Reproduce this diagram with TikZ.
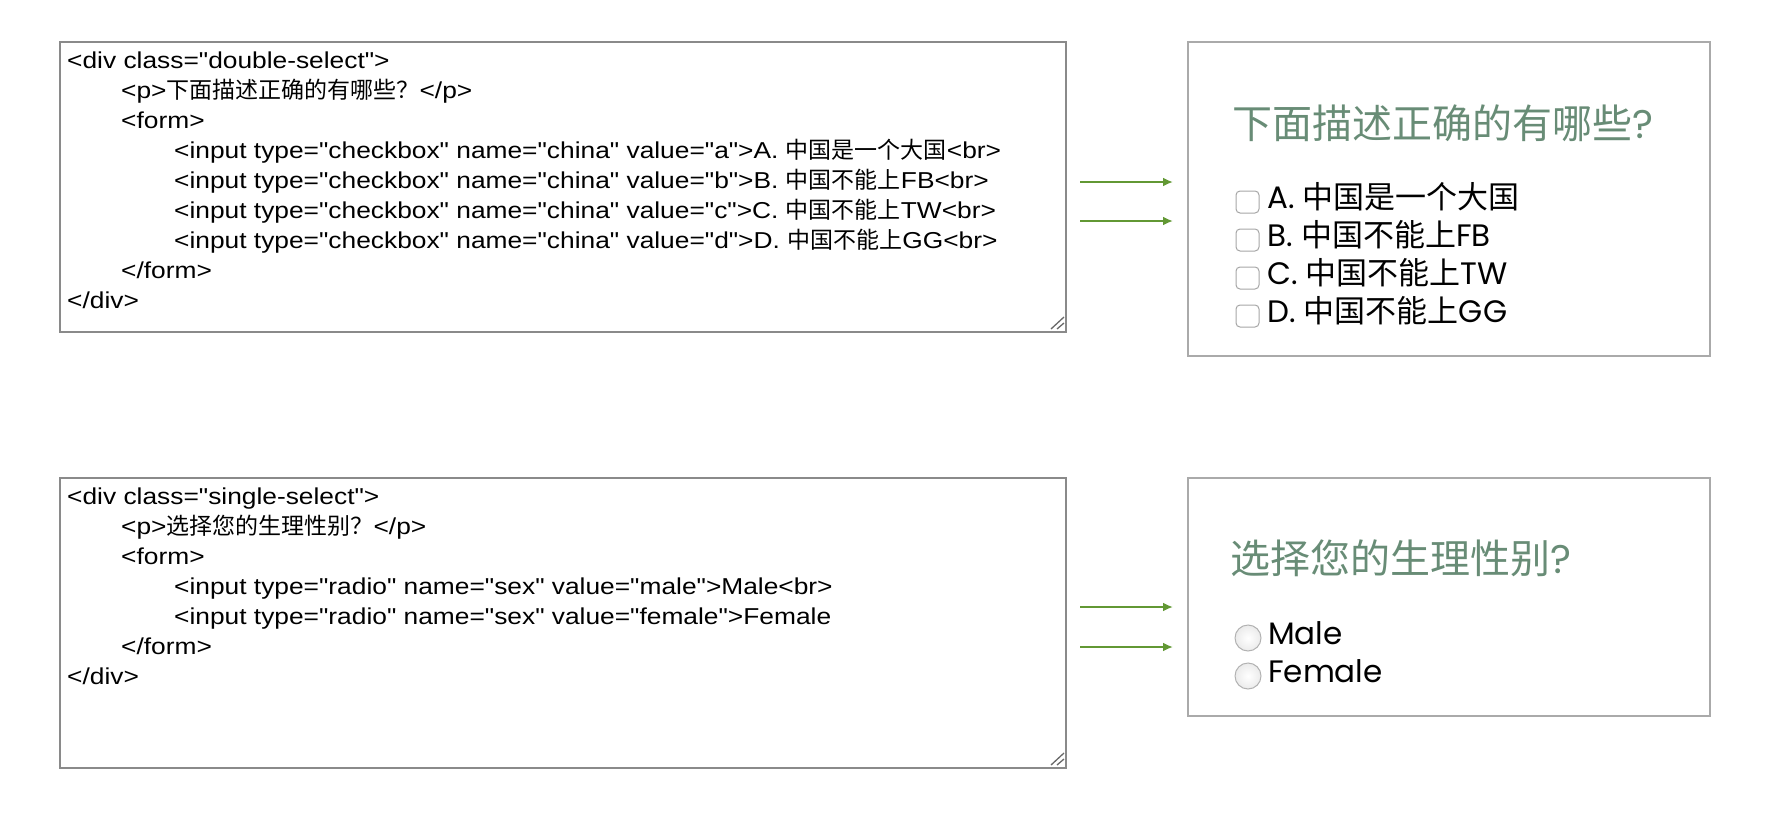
\documentclass[tikz,border=0pt]{standalone}
\usepackage{fontspec}
\setmainfont{Liberation Sans}
\newfontfamily\codefont[FakeStretch=1.145]{Liberation Sans}
\newfontfamily\cjk{Noto Sans CJK SC}
\newfontfamily\formfont{Poppins}
\usetikzlibrary{arrows.meta}

\definecolor{boxgray}{RGB}{138,138,138}
\definecolor{framegray}{RGB}{170,170,170}
\definecolor{titlegreen}{RGB}{104,140,118}
\definecolor{arrowgreen}{RGB}{98,152,52}
\definecolor{gripgray}{RGB}{105,105,105}

\tikzset{
  codebox/.style={draw=boxgray,line width=2pt,inner sep=0pt,anchor=north west},
  viewbox/.style={draw=framegray,line width=2pt,inner sep=0pt,anchor=north west},
  codeline/.style={anchor=base west,inner sep=0pt,font=\codefont\fontsize{23}{28}\selectfont},
  title/.style={anchor=base west,inner sep=0pt,text=titlegreen,font=\cjk\fontsize{40}{48}\selectfont},
  item/.style={anchor=base west,inner sep=0pt,font=\formfont\fontsize{31}{38}\selectfont},
  flow/.style={draw=arrowgreen,line width=2pt,-{Latex[length=10pt,width=9pt]}},
  grip/.style={draw=gripgray,line width=1.3pt},
  tick/.style={draw=black!35,fill=white,line width=1pt,rounded corners=4pt},
  radio/.style={draw=black!30,inner color=white,outer color=black!8,line width=1pt}
}

\begin{document}
\begin{tikzpicture}[x=1pt,y=-1pt]
\useasboundingbox (0,0) rectangle (1778,830);

\node[codebox,minimum width=1006pt,minimum height=290pt] (codeA) at (59,41) {};
\node[viewbox,minimum width=522pt,minimum height=314pt] (viewA) at (1187,41) {};
\node[codebox,minimum width=1006pt,minimum height=290pt] (codeB) at (59,477) {};
\node[viewbox,minimum width=522pt,minimum height=238pt] (viewB) at (1187,477) {};

\draw[grip] ([xshift=-16pt,yshift=4pt]codeA.south east) -- ([xshift=-3pt,yshift=16pt]codeA.south east);
\draw[grip] ([xshift=-10pt,yshift=4pt]codeA.south east) -- ([xshift=-3pt,yshift=10pt]codeA.south east);
\draw[grip] ([xshift=-16pt,yshift=4pt]codeB.south east) -- ([xshift=-3pt,yshift=16pt]codeB.south east);
\draw[grip] ([xshift=-10pt,yshift=4pt]codeB.south east) -- ([xshift=-3pt,yshift=10pt]codeB.south east);

\node[codeline] (a1) at (67,68) {<div class="double-select">};
\node[codeline] (a2) at (121,98) {<p>{\cjk 下面描述正确的有哪些？}</p>};
\node[codeline] (a3) at (121,128) {<form>};
\node[codeline] (a4) at (174,158) {<input type="checkbox" name="china" value="a">A. {\cjk 中国是一个大国}<br>};
\node[codeline] (a5) at (174,188) {<input type="checkbox" name="china" value="b">B. {\cjk 中国不能上}FB<br>};
\node[codeline] (a6) at (174,218) {<input type="checkbox" name="china" value="c">C. {\cjk 中国不能上}TW<br>};
\node[codeline] (a7) at (174,248) {<input type="checkbox" name="china" value="d">D. {\cjk 中国不能上}GG<br>};
\node[codeline] (a8) at (121,278) {</form>};
\node[codeline] (a9) at (67,308) {</div>};

\node[codeline] (b1) at (67,504) {<div class="single-select">};
\node[codeline] (b2) at (121,534) {<p>{\cjk 选择您的生理性别？}</p>};
\node[codeline] (b3) at (121,564) {<form>};
\node[codeline] (b4) at (174,594) {<input type="radio" name="sex" value="male">Male<br>};
\node[codeline] (b5) at (174,624) {<input type="radio" name="sex" value="female">Female};
\node[codeline] (b6) at (121,654) {</form>};
\node[codeline] (b7) at (67,684) {</div>};

\coordinate (fa1) at (1080,182);
\coordinate (ta1) at (1173,182);
\coordinate (fa2) at (1080,221);
\coordinate (ta2) at (1173,221);
\coordinate (fb1) at (1080,607);
\coordinate (tb1) at (1173,607);
\coordinate (fb2) at (1080,647);
\coordinate (tb2) at (1173,647);
\draw[flow] (fa1) -- (ta1);
\draw[flow] (fa2) -- (ta2);
\draw[flow] (fb1) -- (tb1);
\draw[flow] (fb2) -- (tb2);

\node[title] (qA) at (1232,138) {下面描述正确的有哪些{\formfont ?}};
\draw[tick] (1236,191) rectangle (1259,213);
\draw[tick] (1236,229) rectangle (1259,251);
\draw[tick] (1236,267) rectangle (1259,289);
\draw[tick] (1236,305) rectangle (1259,327);
\node[item] (oa) at (1267,208) {A. {\cjk 中国是一个大国}};
\node[item] (ob) at (1267,246) {B. {\cjk 中国不能上}FB};
\node[item] (oc) at (1267,284) {C. {\cjk 中国不能上}TW};
\node[item] (od) at (1267,322) {D. {\cjk 中国不能上}GG};

\node[title] (qB) at (1230,573) {选择您的生理性别{\formfont ?}};
\draw[radio] (1248,638) circle (13pt);
\draw[radio] (1248,676) circle (13pt);
\node[item] (om) at (1268,644) {Male};
\node[item] (of) at (1268,682) {Female};
\end{tikzpicture}
\end{document}
